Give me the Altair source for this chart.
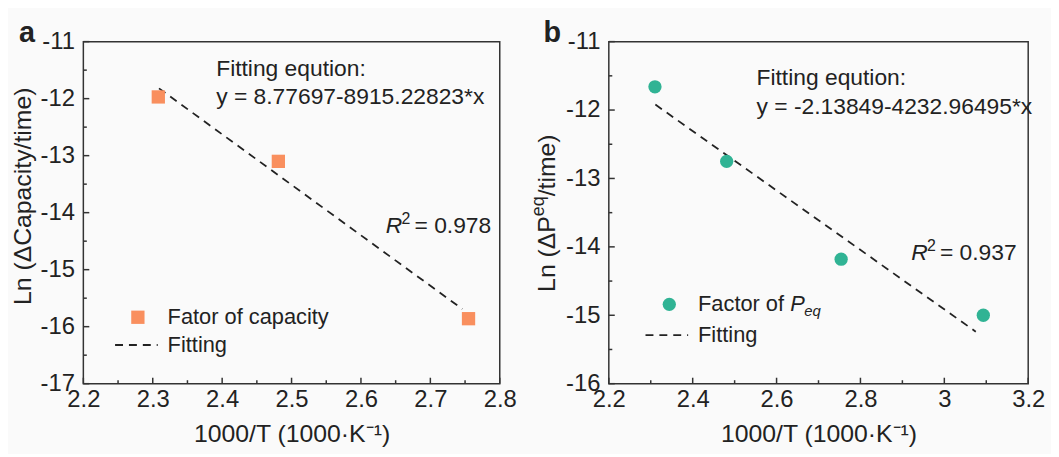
import altair as alt
import pandas as pd

# ---------------- data ----------------
# panel a
a_x = [2.308, 2.481, 2.755]
a_y = [-11.97, -13.10, -15.86]
a_fit_x = [2.309, 2.746]
a_fit_y = [-11.82, -15.69]
a_xticks = [2.2, 2.3, 2.4, 2.5, 2.6, 2.7, 2.8]
a_xminor = [2.25, 2.35, 2.45, 2.55, 2.65, 2.75]
a_yticks = [-17, -16, -15, -14, -13, -12, -11]
a_yminor = [-16.5, -15.5, -14.5, -13.5, -12.5, -11.5]

# panel b
b_x = [2.310, 2.481, 2.754, 3.093]
b_y = [-11.66, -12.75, -14.18, -15.00]
b_fit_x = [2.311, 3.075]
b_fit_y = [-11.92, -15.24]
b_xticks = [2.2, 2.4, 2.6, 2.8, 3.0, 3.2]
b_xminor = [2.3, 2.5, 2.7, 2.9, 3.1]
b_yticks = [-16, -15, -14, -13, -12, -11]
b_yminor = [-15.5, -14.5, -13.5, -12.5, -11.5]

FONT = "Liberation Sans"
ORANGE = "#F98F5E"
TEAL = "#30B394"
INK = "#222222"
W_A, W_B, H = 420, 423, 345
DASH = [8, 6]


def txt(s, x, y, size=23, align="left", angle=0, style="normal", weight="normal"):
    props = dict(font=FONT, fontSize=size, align=align, baseline="middle",
                 color=INK, fontStyle=style, fontWeight=weight)
    if angle:
        props["angle"] = angle
    return alt.Chart(pd.DataFrame({"t": [s]})).mark_text(**props).encode(
        x=alt.value(x), y=alt.value(y), text="t:N")


def panel(px, py, fx, fy, xt, xm, yt, ym, xdom, ydom, width, shape, color):
    xs = alt.Scale(domain=xdom, nice=False, zero=False)
    ys = alt.Scale(domain=ydom, nice=False, zero=False)
    xaxis = alt.Axis(values=xt, labelExpr="'' + datum.value", ticks=False, domain=False,
                     grid=False, labelFont=FONT, labelFontSize=24, labelColor=INK,
                     labelPadding=4, labelFlush=False, labelOverlap=False,
                     title="1000/T (1000\u00b7K\u207b\u00b9)", titleFont=FONT,
                     titleFontSize=25, titleFontWeight="normal", titleColor=INK,
                     titlePadding=10)
    yaxis = alt.Axis(values=yt, labelExpr="'-' + abs(datum.value)", ticks=False,
                     domain=False, grid=False, labelFont=FONT, labelFontSize=24,
                     labelColor=INK, labelPadding=9, labelOverlap=False,
                     labelFlush=False, title=None)
    pts = pd.DataFrame({"x": px, "y": py})
    fit = pd.DataFrame({"x": fx, "y": fy})
    base_pts = alt.Chart(pts)
    if shape == "square":
        m = base_pts.mark_square(size=180, color=color, opacity=1)
    else:
        m = base_pts.mark_circle(size=180, color=color, opacity=1)
    points = m.encode(x=alt.X("x:Q", scale=xs, axis=xaxis),
                      y=alt.Y("y:Q", scale=ys, axis=yaxis))
    line = alt.Chart(fit).mark_line(color=INK, strokeWidth=1.8, strokeDash=DASH).encode(
        x=alt.X("x:Q", scale=xs), y=alt.Y("y:Q", scale=ys))
    xmaj = alt.Chart(pd.DataFrame({"v": xt})).mark_rule(color="#333", strokeWidth=1.5).encode(
        x=alt.X("v:Q", scale=xs), y=alt.value(H), y2=alt.value(H - 6))
    xmin = alt.Chart(pd.DataFrame({"v": xm})).mark_rule(color="#333", strokeWidth=1.5).encode(
        x=alt.X("v:Q", scale=xs), y=alt.value(H), y2=alt.value(H - 3.5))
    ymaj = alt.Chart(pd.DataFrame({"v": yt})).mark_rule(color="#333", strokeWidth=1.5).encode(
        y=alt.Y("v:Q", scale=ys), x=alt.value(0), x2=alt.value(6))
    ymin = alt.Chart(pd.DataFrame({"v": ym})).mark_rule(color="#333", strokeWidth=1.5).encode(
        y=alt.Y("v:Q", scale=ys), x=alt.value(0), x2=alt.value(3.5))
    return [xmaj, xmin, ymaj, ymin, line, points]


# ---------------- panel a ----------------
la = panel(a_x, a_y, a_fit_x, a_fit_y, a_xticks, a_xminor, a_yticks, a_yminor,
           [2.2, 2.8], [-17, -11], W_A, "square", ORANGE)
ann_a = [
    txt("a", -65, -9, size=29, weight="bold"),
    txt("Ln (\u0394Capacity/time)", -61, 156, size=25, align="center", angle=270),
    txt("Fitting eqution:", 134, 28),
    txt("y = 8.77697-8915.22823*x", 134, 56),
    txt("R", 305, 186, style="italic"),
    txt("2", 321, 179, size=16),
    txt("= 0.978", 334, 186),
    alt.Chart(pd.DataFrame({"t": [0]})).mark_square(size=180, color=ORANGE, opacity=1).encode(
        x=alt.value(55), y=alt.value(278)),
    txt("Fator of capacity", 85, 278, size=22),
    alt.Chart(pd.DataFrame({"t": [0]})).mark_rule(color=INK, strokeWidth=1.8, strokeDash=DASH).encode(
        x=alt.value(32), x2=alt.value(75), y=alt.value(306)),
    txt("Fitting", 85, 306, size=22),
]
chart_a = alt.layer(*la, *ann_a).properties(width=W_A, height=H)

# ---------------- panel b ----------------
lb = panel(b_x, b_y, b_fit_x, b_fit_y, b_xticks, b_xminor, b_yticks, b_yminor,
           [2.2, 3.2], [-16, -11], W_B, "circle", TEAL)
ann_b = [
    txt("b", -66, -9, size=29, weight="bold"),
    txt("Ln (\u0394P", -62, 176, size=25, align="right", angle=270),
    txt("eq", -70, 176, size=18, align="left", angle=270),
    txt("/time)", -62, 156, size=25, align="left", angle=270),
    txt("Fitting eqution:", 149, 37),
    txt("y = -2.13849-4232.96495*x", 149, 66),
    txt("R", 305, 213, style="italic"),
    txt("2", 321, 206, size=16),
    txt("= 0.937", 334, 213),
    alt.Chart(pd.DataFrame({"t": [0]})).mark_circle(size=180, color=TEAL, opacity=1).encode(
        x=alt.value(61), y=alt.value(265)),
    txt("Factor of", 90, 265, size=22),
    txt("P", 183, 265, size=22, style="italic"),
    txt("eq", 197, 272, size=15, style="italic"),
    alt.Chart(pd.DataFrame({"t": [0]})).mark_rule(color=INK, strokeWidth=1.8, strokeDash=DASH).encode(
        x=alt.value(37), x2=alt.value(80), y=alt.value(296)),
    txt("Fitting", 90, 296, size=22),
]
chart_b = alt.layer(*lb, *ann_b).properties(width=W_B, height=H)

chart = alt.hconcat(chart_a, chart_b, spacing=110, bounds="flush").properties(
    background="#fafafa",
    padding={"left": 2, "top": 8, "right": 5, "bottom": 5},
).configure_view(stroke="#333333", strokeWidth=1.5).configure_concat(spacing=110)

chart.save("out.html", embed_options={"renderer": "svg", "actions": False})
